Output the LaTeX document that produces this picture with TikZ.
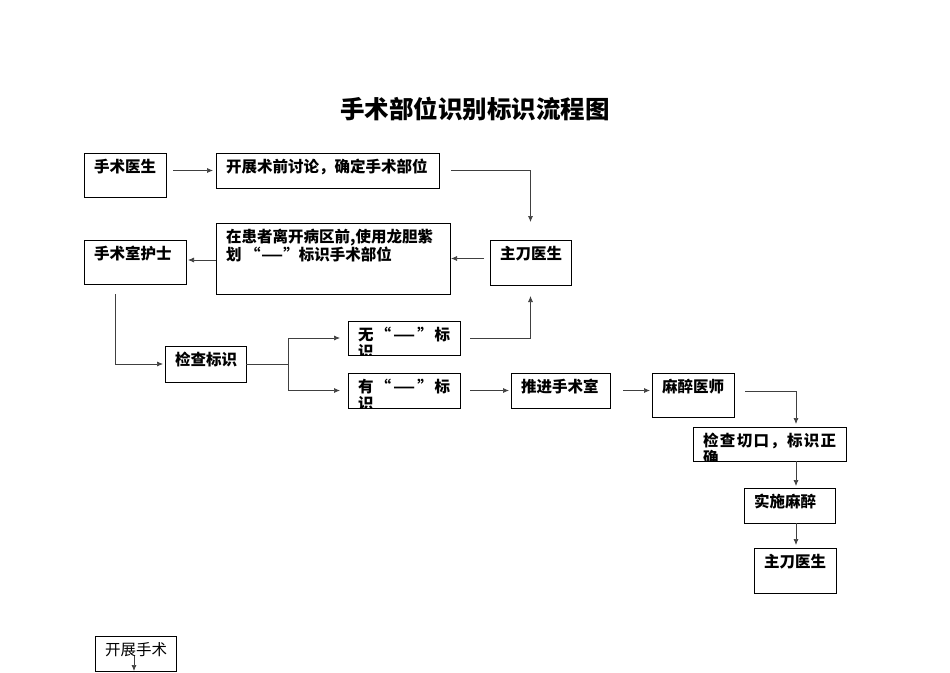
\documentclass[tikz,border=0pt]{standalone}
\usepackage{fontspec}
\usepackage{graphicx}
\setmainfont{Noto Sans CJK SC}
\usetikzlibrary{arrows.meta}
\newcommand\fw[1]{{\addfontfeature{RawFeature=+fwid}#1}}
\newcommand\longdash{\scalebox{1.6}[1]{—}}
\newcommand\flowbox[7][\bfseries]{%
  \node[box, minimum width=#5-#3, minimum height=#6-#4] (#2) at (#3,#4) {};
  \begin{scope}
    \clip (#3,#4) rectangle (#5,#6);
    \node[lbl, font=#1\fontsize{15.5}{16}\selectfont] at (#3+10,#4+6) {#7};
  \end{scope}}
\begin{document}
\begin{tikzpicture}[x=1pt,y=-1pt,
  box/.style={draw, line width=0.8pt, anchor=north west, inner sep=0pt, outer sep=0pt},
  conn/.style={line width=0.7pt, draw=black!75},
  arr/.style={conn, -{Latex[length=6pt,width=5pt]}},
  lbl/.style={anchor=north west, inner sep=0pt, align=left}]
\useasboundingbox[fill=white] (0,0) rectangle (950,672);
\node[font=\bfseries\fontsize{24.5}{26}\selectfont] (title) at (475,109) {手术部位识别标识流程图};

\flowbox{a1}{84}{153}{166}{197}{手术医生}
\flowbox{b1}{216}{153}{439}{188}{开展术前讨论，确定手术部位}
\flowbox{c1}{490}{240}{571}{285}{主刀医生}
\flowbox{d1}{216}{223}{450}{294}{在患者离开病区前,使用龙胆紫\\划 \fw{“}\longdash\fw{”}标识手术部位}
\flowbox{e1}{84}{240}{186}{284}{手术室护士}
\flowbox{f1}{165}{346}{246}{382}{检查标识}
\flowbox{g1}{348}{321}{460}{355}{\hbox to 92pt{无\hfill \fw{“}\hfill \longdash\hfill \fw{”}\hfill 标}\\[1pt]识}
\flowbox{h1}{348}{373}{460}{408}{\hbox to 92pt{有\hfill \fw{“}\hfill \longdash\hfill \fw{”}\hfill 标}\\[1pt]识}
\flowbox{i1}{511}{373}{610}{408}{推进手术室}
\flowbox{j1}{652}{373}{734}{417}{麻醉医师}
\flowbox{k1}{693}{427}{846}{461}{\hbox to 133pt{检\hfill 查\hfill 切\hfill 口\hfill ，\hfill 标\hfill 识\hfill 正}\\[1pt]确}
\flowbox{l1}{744}{488}{835}{523}{实施麻醉}
\flowbox{m1}{754}{548}{836}{593}{主刀医生}
\flowbox[\mdseries]{n1}{95}{636}{176}{671}{开展手术}

\coordinate (col) at (796,0);
\coordinate (fork) at (288,0);

\draw[arr, shorten <=7pt, shorten >=3pt] (a1.east |- b1.west) -- (b1.west);
\draw[arr, shorten <=12pt, shorten >=18pt] (b1.east) -| (c1.north);
\draw[arr, shorten <=6pt, shorten >=1pt] (c1.west |- d1.east) -- (d1.east);
\draw[arr, shorten >=2pt] ([yshift=-1.5pt]d1.west) -- ([yshift=-1.5pt]d1.west -| e1.east);
\draw[arr, shorten <=10pt, shorten >=2pt] ([xshift=-20pt]e1.south) |- (f1.west);
\draw[conn] (f1.east) -- (fork |- f1.east);
\draw[arr, shorten >=8pt] (fork |- f1.east) |- (g1.west);
\draw[arr, shorten >=8pt] (fork |- f1.east) |- (h1.west);
\draw[arr, shorten <=10pt, shorten >=11pt] (g1.east) -| (c1.south);
\draw[arr, shorten <=10pt, shorten >=2pt] (h1.east) -- (i1.west);
\draw[arr, shorten <=13pt, shorten >=2pt] (i1.east) -- (i1.east -| j1.west);
\draw[arr, shorten <=11pt, shorten >=3pt] ([yshift=4pt]j1.east) -| (col |- k1.north);
\draw[arr, shorten >=2pt] (col |- k1.south) -- (col |- l1.north);
\draw[arr, shorten >=3pt] (col |- l1.south) -- (col |- m1.north);
\draw[arr] ([xshift=-1.5pt,yshift=-2pt]n1.center) -- ([xshift=-1.5pt]n1.south);
\end{tikzpicture}
\end{document}
